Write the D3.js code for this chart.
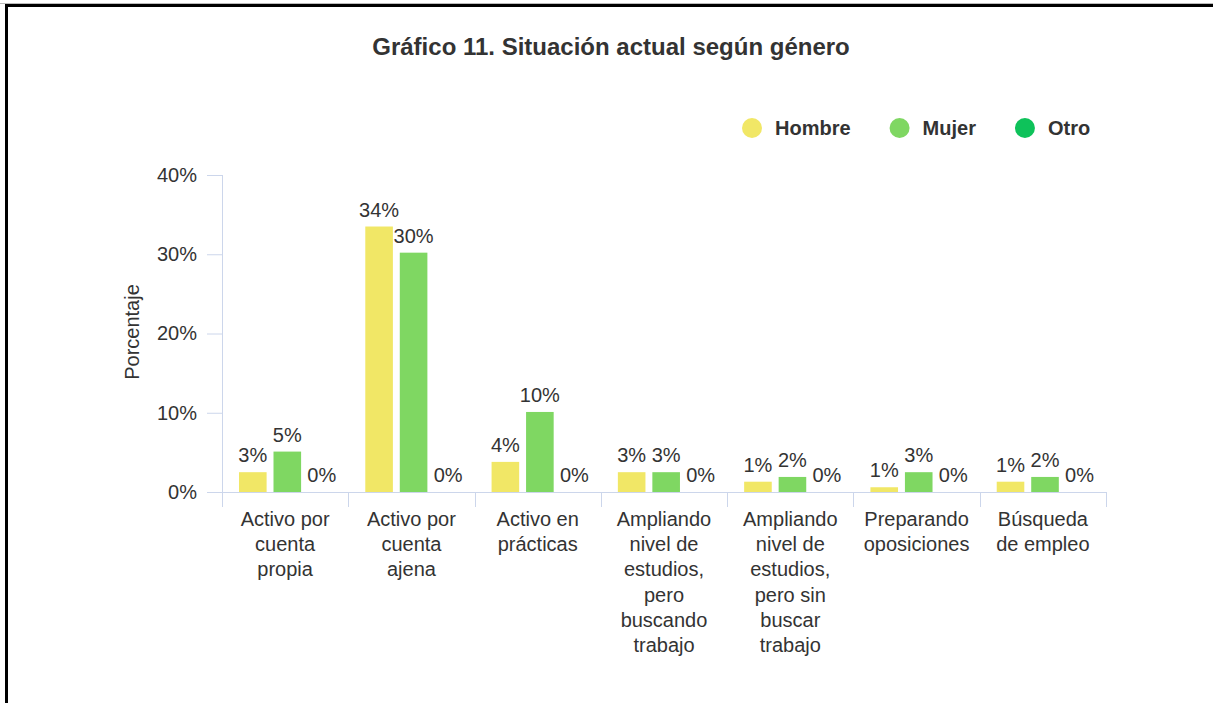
<!DOCTYPE html>
<html>
<head>
<meta charset="UTF-8">
<title>Gráfico 11</title>
<script src="https://cdn.jsdelivr.net/npm/d3@7"></script>
<style>
	body { margin: 0; background: #fff; }
	text { font-family: "Liberation Sans", Arial, sans-serif; }
</style>
</head>
<body>
	<div id="chart"></div>
	<script type="text/javascript">
		var categories = ["Activo por cuenta propia", "Activo por cuenta ajena", "Activo en prácticas",
			"Ampliando nivel de estudios, pero buscando trabajo", "Ampliando nivel de estudios, pero sin buscar trabajo",
			"Preparando oposiciones", "Búsqueda de empleo"];
		var seriesNames = ["Hombre", "Mujer", "Otro"];
		var hombre = [2.5, 33.5, 3.8, 2.5, 1.3, 0.6, 1.3];
		var mujer = [5.1, 30.2, 10.1, 2.5, 1.9, 2.5, 1.9];
		var otro = [0, 0, 0, 0, 0, 0, 0];
		var yTicks = [0, 10, 20, 30, 40];
		var colors = ["#f1e766", "#7fd762", "#0ec25a"];

		var W = 1213, H = 703;
		var axisColor = "#ccd6eb";
		var textColor = "#333333";

		var svg = d3.select("#chart").append("svg").attr("width", W).attr("height", H);

		// frame
		svg.append("line").attr("x1", 0).attr("x2", W).attr("y1", 3.5).attr("y2", 3.5).attr("stroke", "#bbb").attr("stroke-width", 1);
		svg.append("rect").attr("x", 6.5).attr("y", 5.5).attr("width", W + 10).attr("height", H + 10)
			.attr("fill", "none").attr("stroke", "#000").attr("stroke-width", 3);

		// title
		svg.append("text").attr("x", 611).attr("y", 55).attr("text-anchor", "middle")
			.attr("font-size", 24).attr("font-weight", "bold").attr("fill", textColor)
			.text("Gráfico 11. Situación actual según género");

		// legend
		var legend = svg.append("g");
		var lx = 752;
		seriesNames.forEach(function(name, i) {
			legend.append("circle").attr("cx", lx).attr("cy", 128).attr("r", 10).attr("fill", colors[i]);
			var t = legend.append("text").attr("x", lx + 23).attr("y", 135).attr("font-size", 20)
				.attr("font-weight", "bold").attr("fill", textColor).text(name);
			lx += 23 + t.node().getComputedTextLength() + 49;
		});

		// scales
		var x0 = d3.scaleBand().domain(categories).range([222, 1106]).padding(0);
		var groupLeft = 17;
		var x1 = d3.scaleBand().domain(seriesNames).range([groupLeft, groupLeft + 96.6]).paddingInner(0.2).paddingOuter(0);
		var y = d3.scaleLinear().domain([0, 40]).range([492, 175]);

		// y axis
		var yAxis = svg.append("g").attr("transform", "translate(222,0)")
			.call(d3.axisLeft(y).tickValues(yTicks).tickSize(15).tickPadding(10).tickFormat(function(d) { return d + "%"; }));
		yAxis.select(".domain").remove();
		yAxis.selectAll(".tick line").attr("stroke", axisColor);
		yAxis.selectAll(".tick text").attr("font-size", 20).attr("fill", textColor).attr("font-family", null);
		svg.append("line").attr("x1", 222.5).attr("x2", 222.5).attr("y1", 175).attr("y2", 507).attr("stroke", axisColor);

		svg.append("text").attr("transform", "translate(139,332) rotate(-90)").attr("text-anchor", "middle")
			.attr("font-size", 20).attr("fill", textColor).text("Porcentaje");

		// x axis
		svg.append("line").attr("x1", 207).attr("x2", 1106).attr("y1", 492.5).attr("y2", 492.5).attr("stroke", axisColor);
		var bounds = categories.map(function(c) { return x0(c); }).concat([x0.range()[1]]);
		svg.selectAll(".xtick").data(bounds).enter().append("line").attr("class", "xtick")
			.attr("x1", function(d) { return Math.round(d) + 0.5; }).attr("x2", function(d) { return Math.round(d) + 0.5; })
			.attr("y1", 492).attr("y2", 507).attr("stroke", axisColor);

		// wrapped category labels
		var maxW = 112;
		categories.forEach(function(c) {
			var cx = x0(c) + x0.bandwidth() / 2;
			var t = svg.append("text").attr("x", cx).attr("y", 526)
				.attr("text-anchor", "middle").attr("font-size", 20).attr("fill", textColor);
			var words = c.split(" "), line = [];
			var ts = t.append("tspan").attr("x", cx).attr("dy", 0);
			words.forEach(function(w) {
				line.push(w);
				ts.text(line.join(" "));
				if (ts.node().getComputedTextLength() > maxW && line.length > 1) {
					line.pop();
					ts.text(line.join(" "));
					line = [w];
					ts = t.append("tspan").attr("x", cx).attr("dy", 25.2).text(w);
				}
			});
		});

		// bars
		var table = categories.map(function(c, i) {
			return { cat: c, vals: [hombre[i], mujer[i], otro[i]] };
		});
		var groups = svg.selectAll(".grp").data(table).enter().append("g").attr("class", "grp")
			.attr("transform", function(d) { return "translate(" + x0(d.cat) + ",0)"; });

		groups.selectAll("rect").data(function(d) { return d.vals; }).enter().append("rect")
			.attr("x", function(d, i) { return x1(seriesNames[i]); })
			.attr("y", function(d) { return y(d); })
			.attr("width", x1.bandwidth())
			.attr("height", function(d) { return y(0) - y(d); })
			.attr("fill", function(d, i) { return colors[i]; });

		groups.selectAll(".lbl").data(function(d) { return d.vals; }).enter().append("text").attr("class", "lbl")
			.attr("x", function(d, i) { return x1(seriesNames[i]) + x1.bandwidth() / 2; })
			.attr("y", function(d) { return y(d) - 10; })
			.attr("text-anchor", "middle").attr("font-size", 20).attr("fill", textColor)
			.text(function(d) { return Math.round(d) + "%"; });
	</script>
</body>
</html>
